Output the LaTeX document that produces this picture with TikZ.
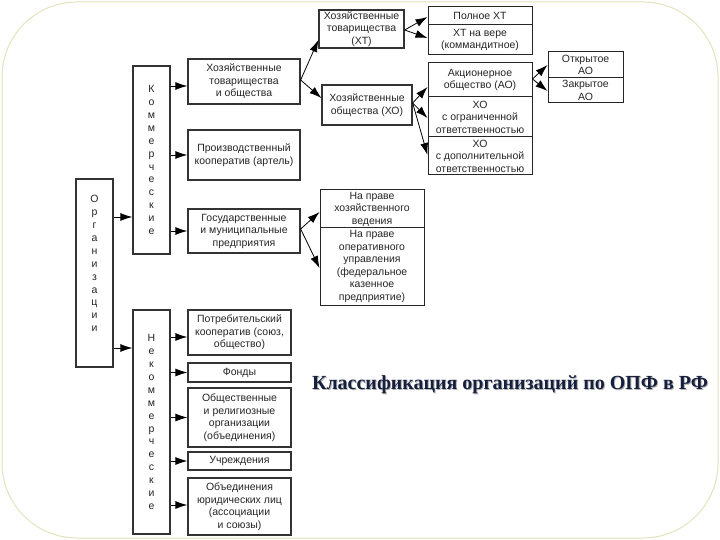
\documentclass[tikz,border=0pt]{standalone}
\usepackage{fontspec}
\setmainfont{Liberation Sans}
\newfontfamily\titlefont{Liberation Serif}
\usetikzlibrary{arrows.meta}
\definecolor{framecol}{RGB}{226,226,190}
\definecolor{titlecol}{RGB}{22,32,62}
\tikzset{
  box/.style={draw=black!80, line width=1.3pt, fill=white, inner sep=1pt, align=center,
    font=\fontsize{10.5}{12.5}\selectfont, text=black!85},
  vbox/.style={box, font=\fontsize{10.5}{12.9}\selectfont},
  cell/.style={draw=black!85, line width=1pt, fill=white, inner sep=1pt, align=center,
    font=\fontsize{10.5}{12.5}\selectfont, text=black!85},
  arr/.style={-{Latex[length=12pt,width=8pt]}, line width=0.8pt, black}
}
\begin{document}
\begin{tikzpicture}[x=1pt,y=-1pt]
\useasboundingbox (0,0) rectangle (720,540);
\draw[framecol, line width=1pt, rounded corners=75pt] (2,2) rectangle (718,538);

% main vertical boxes
\node[vbox, minimum width=37pt, minimum height=188pt] (org) at (94.5,273)
  {О\\р\\г\\а\\н\\и\\з\\а\\ц\\и\\и\\[6pt]};
\node[vbox, minimum width=37pt, minimum height=188pt] (kom) at (151.5,160)
  {К\\о\\м\\м\\е\\р\\ч\\е\\с\\к\\и\\е};
\node[vbox, minimum width=37pt, minimum height=224pt] (nekom) at (151.5,422)
  {Н\\е\\к\\о\\м\\м\\е\\р\\ч\\е\\с\\к\\и\\е};

% commercial
\node[box, minimum width=112pt, minimum height=45pt] (htio) at (244,81.5)
  {Хозяйственные\\товарищества\\и общества};
\node[box, minimum width=112pt, minimum height=50pt] (pk) at (244,155)
  {Производственный\\кооператив (артель)};
\node[box, minimum width=112pt, minimum height=44pt] (gmp) at (244,231)
  {Государственные\\и муниципальные\\предприятия};

% non-commercial
\node[box, minimum width=103pt, minimum height=45pt] (potr) at (239.5,332.5)
  {Потребительский\\кооператив (союз,\\общество)};
\node[box, minimum width=103pt, minimum height=19pt] (fond) at (239.5,372.5)
  {Фонды};
\node[box, minimum width=103pt, minimum height=59pt] (obsh) at (239.5,417.5)
  {Общественные\\и религиозные\\организации\\(объединения)};
\node[box, minimum width=103pt, minimum height=18pt] (uchr) at (239.5,461)
  {Учреждения};
\node[box, minimum width=103pt, minimum height=57pt] (obed) at (239.5,506.5)
  {Объединения\\юридических лиц\\(ассоциации\\и союзы)};

% second level
\node[box, minimum width=85pt, minimum height=38pt] (ht) at (361.5,29)
  {Хозяйственные\\товарищества\\(ХТ)};
\node[box, minimum width=90pt, minimum height=40pt] (ho) at (367,105)
  {Хозяйственные\\общества (ХО)};

% third level
\node[cell, minimum width=104pt, minimum height=18pt] (pht) at (480,16) {Полное ХТ};
\node[cell, minimum width=104pt, minimum height=30pt] (htv) at (480,40)
  {ХТ на вере\\(коммандитное)};
\node[cell, minimum width=104pt, minimum height=34pt] (ao) at (480,80)
  {Акционерное\\общество (АО)};
\node[cell, minimum width=104pt, minimum height=40pt] (hoogr) at (480,117)
  {ХО\\с ограниченной\\ответственностью};
\node[cell, minimum width=104pt, minimum height=38pt] (hodop) at (480,156)
  {ХО\\с дополнительной\\ответственностью};
\node[cell, minimum width=75pt, minimum height=26pt] (oao) at (585.5,65)
  {Открытое\\АО};
\node[cell, minimum width=75pt, minimum height=25pt] (zao) at (585.5,90.5)
  {Закрытое\\АО};
\node[cell, minimum width=104pt, minimum height=38pt] (hv) at (372,209)
  {На праве\\хозяйственного\\ведения};
\node[cell, minimum width=104pt, minimum height=77pt] (ou) at (372,266.5)
  {На праве\\оперативного\\управления\\(федеральное\\казенное\\предприятие)};

% arrows
\draw[arr] (org.east |- 0,217) -- (kom.west |- 0,217);
\draw[arr] (org.east |- 0,348) -- (nekom.west |- 0,348);
\draw[arr] (kom.east |- 0,86) -- (htio.west |- 0,86);
\draw[arr] (kom.east |- pk) -- (pk.west);
\draw[arr] (kom.east |- gmp) -- (gmp.west);
\draw[arr] (nekom.east |- 0,337) -- (potr.west |- 0,337);
\draw[arr] (nekom.east |- fond) -- (fond.west);
\draw[arr] (nekom.east |- obsh) -- (obsh.west);
\draw[arr] (nekom.east |- uchr) -- (uchr.west);
\draw[arr] (nekom.east |- 0,505) -- (obed.west |- 0,505);

\draw[arr] (htio.east |- 0,80) -- (ht.west |- 0,40);
\draw[arr] (htio.east |- 0,80) -- (ho.west |- 0,98);
\draw[arr] (ht.east |- 0,30) -- (pht.west |- 0,17);
\draw[arr] (ht.east |- 0,30) -- (htv.west |- 0,38);
\draw[arr] (ho.east |- 0,103) -- (ao.west |- 0,87);
\draw[arr] (ho.east |- 0,103) -- (hoogr.west |- 0,118);
\draw[arr] (ho.east |- 0,103) -- (hodop.west |- 0,155);
\draw[arr] (ao.east |- 0,79) -- (oao.west |- 0,65);
\draw[arr] (ao.east |- 0,79) -- (zao.west |- 0,91);
\draw[arr] (gmp.east |- 0,229) -- (hv.west |- 0,212);
\draw[arr] (gmp.east |- 0,229) -- (ou.west |- 0,268);

% title
\node[text=black!30, font=\titlefont\bfseries\fontsize{20}{24}\selectfont] at (511,386) {Классификация организаций по ОПФ в РФ};
\node[text=titlecol, font=\titlefont\bfseries\fontsize{20}{24}\selectfont] (title) at (510,385) {Классификация организаций по ОПФ в РФ};
\end{tikzpicture}
\end{document}
